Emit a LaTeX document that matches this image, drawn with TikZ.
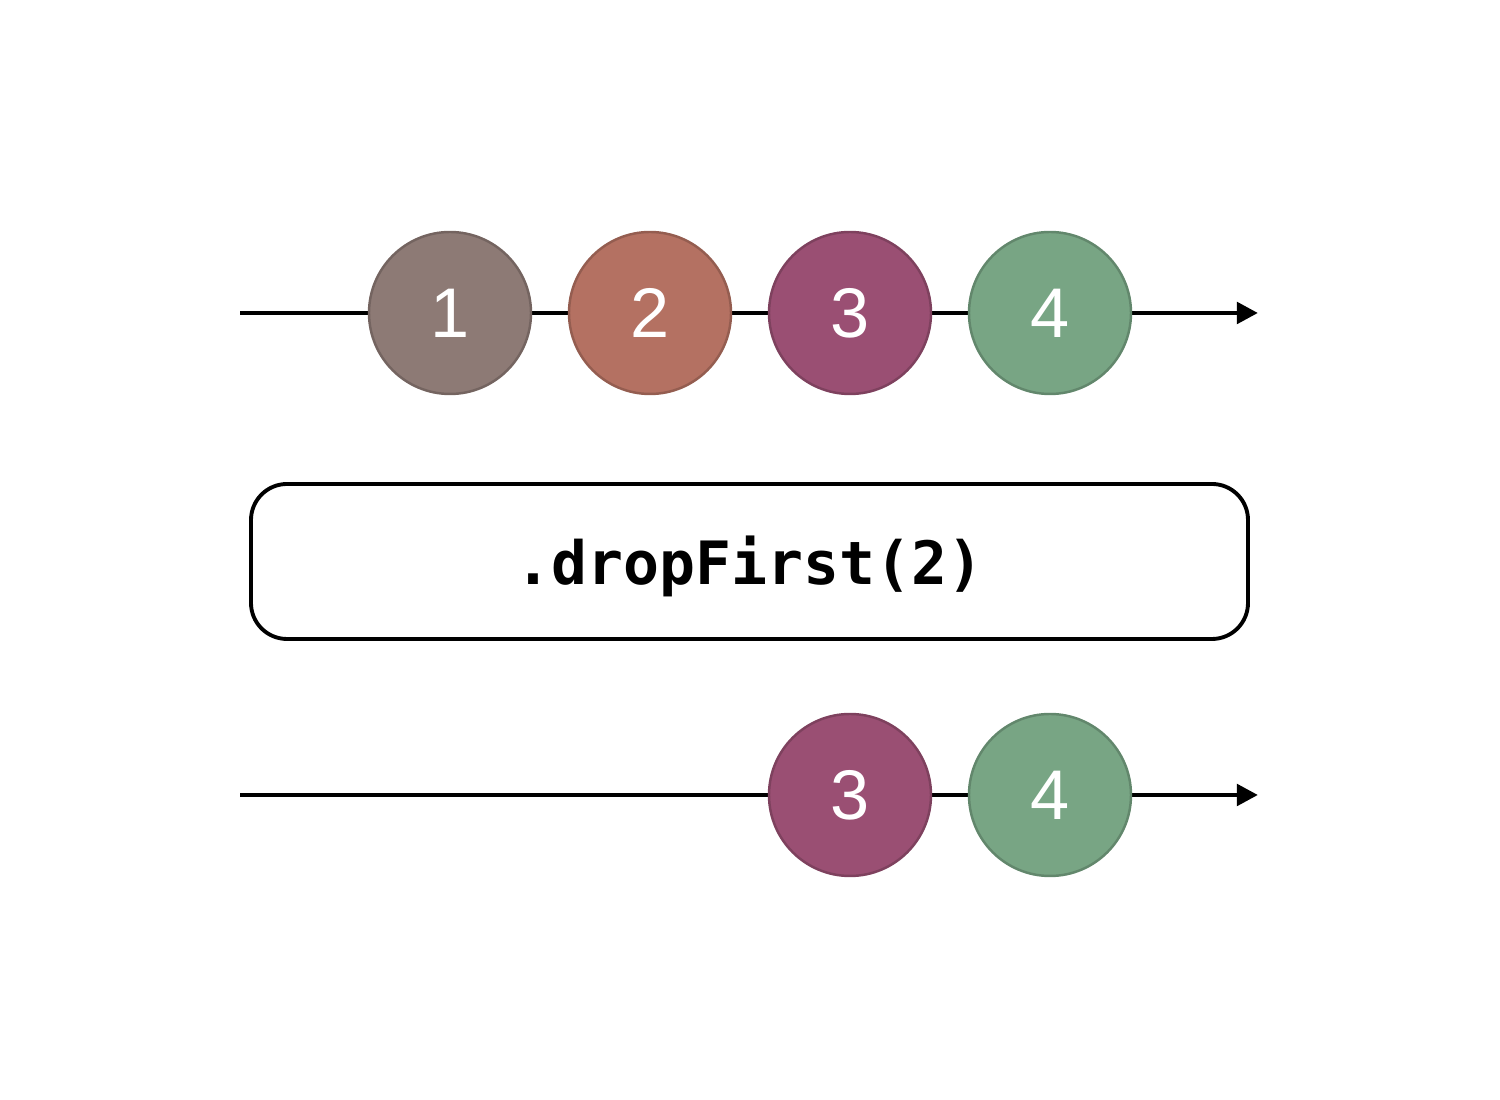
\documentclass[tikz,border=0pt]{standalone}
\usepackage{fontspec}
\newfontfamily\marblefont{Liberation Sans}
\newfontfamily\opfont{DejaVu Sans Mono}
\usetikzlibrary{arrows.meta}

\definecolor{marbleA}{HTML}{8D7A75}
\definecolor{marbleB}{HTML}{B47162}
\definecolor{marbleC}{HTML}{9A4F73}
\definecolor{marbleD}{HTML}{78A584}

\tikzset{
  marble/.style={circle, draw=#1!82!black, fill=#1, line width=0.7pt,
    minimum size=1.62cm, inner sep=0pt, text=white,
    font=\marblefont\fontsize{20}{20}\selectfont},
  timeline/.style={line width=1.4pt, -{Triangle[length=6pt,width=6pt]}},
  operator/.style={draw, rounded corners=0.36cm, line width=1.1pt,
    minimum width=9.97cm, minimum height=1.55cm,
    font=\opfont\bfseries\fontsize{17}{17}\selectfont}
}

\begin{document}
\begin{tikzpicture}

  \useasboundingbox (0,0) rectangle (15,11);

  % input stream
  \coordinate (inStart) at (2.4,7.87);
  \coordinate (inEnd) at (12.58,7.87);
  \draw [timeline] (inStart) -- (inEnd);

  \foreach \n/\x/\c in {1/4.5/marbleA, 2/6.5/marbleB, 3/8.5/marbleC, 4/10.5/marbleD}
    \node [marble=\c] (in\n) at (\x,7.87) {\n};

  % operator
  \node [operator] (op) at (7.495,5.385) {\raisebox{-1.3pt}[\height][\depth]{.dropFirst(2)}};

  % output stream
  \coordinate (outStart) at (2.4,3.05);
  \coordinate (outEnd) at (12.58,3.05);
  \draw [timeline] (outStart) -- (outEnd);

  \foreach \n/\x/\c in {3/8.5/marbleC, 4/10.5/marbleD}
    \node [marble=\c] (out\n) at (\x,3.05) {\n};

\end{tikzpicture}
\end{document}
